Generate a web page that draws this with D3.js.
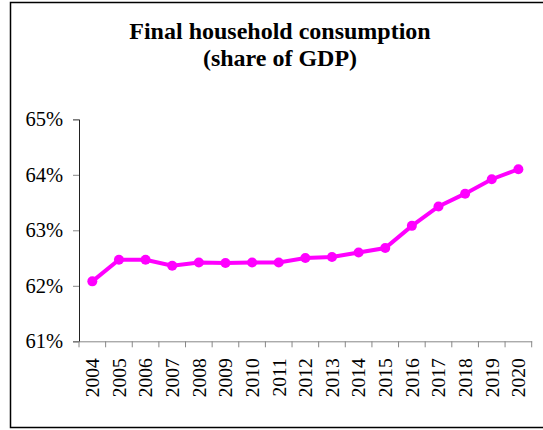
<!DOCTYPE html>
<html>
<head>
<meta charset="utf-8">
<script src="https://cdn.jsdelivr.net/npm/d3@7"></script>
<style>
body { margin: 0; background: #fff; }
</style>
</head>
<body>
<svg id="chart" width="543" height="430"></svg>
<script>
var years = ["2004","2005","2006","2007","2008","2009","2010","2011","2012","2013","2014","2015","2016","2017","2018","2019","2020"];
var consumption = [62.08, 62.47, 62.47, 62.36, 62.42, 62.41, 62.42, 62.42, 62.50, 62.52, 62.60, 62.68, 63.08, 63.43, 63.66, 63.92, 64.10];
var yTicks = [61, 62, 63, 64, 65];

var serif = "Liberation Serif";
var svg = d3.select("#chart");

// outer frame (right edge runs off the picture)
svg.append("rect")
  .attr("x", 10.5).attr("y", 2.5)
  .attr("width", 560).attr("height", 425)
  .attr("fill", "none").attr("stroke", "#000").attr("stroke-width", 1.5);

var title = svg.append("text")
  .attr("x", 280).attr("text-anchor", "middle")
  .style("font-family", serif)
  .attr("font-weight", "bold").attr("font-size", "24px");
title.append("tspan").attr("x", 280).attr("y", 38.5).text("Final household consumption");
title.append("tspan").attr("x", 280).attr("y", 65.5).text("(share of GDP)");

var x = d3.scaleBand().domain(years).range([79, 531.7]).padding(0);
var y = d3.scaleLinear().domain([61, 65]).range([341.3, 119.3]);

// y axis
var yAxis = svg.append("g")
  .attr("transform", "translate(79,0)")
  .call(d3.axisLeft(y).tickValues(yTicks).tickFormat(function(d) { return d + "%"; }).tickSize(6).tickPadding(10));
yAxis.attr("font-family", null);
yAxis.select(".domain").attr("stroke", "#222");
yAxis.selectAll(".tick line").attr("stroke", "#888");
yAxis.selectAll(".tick text").style("font-size", "20.5px").attr("fill", "#000")
  .style("font-family", serif);

// x axis
var xAxis = svg.append("g")
  .attr("transform", "translate(0,341.3)")
  .call(d3.axisBottom(x).tickSize(0).tickPadding(0));
xAxis.attr("font-family", null);
xAxis.select(".domain").attr("stroke", "#888");
xAxis.selectAll(".tick text")
  .style("font-size", "19.5px").attr("fill", "#000")
  .style("font-family", serif)
  .attr("transform", "rotate(-90)")
  .attr("text-anchor", "end")
  .attr("x", -17).attr("y", 0).attr("dy", "0.35em");

// category boundary ticks
var bounds = years.map(function(d) { return x(d); }).concat([x.range()[1]]);
xAxis.selectAll(".bound").data(bounds).enter().append("line")
  .attr("class", "bound")
  .attr("x1", function(d) { return d; }).attr("x2", function(d) { return d; })
  .attr("y1", 0).attr("y2", 6)
  .attr("stroke", "#888");

var cx = function(d, i) { return x(years[i]) + x.bandwidth() / 2; };

var line = d3.line()
  .x(function(d, i) { return cx(d, i); })
  .y(function(d) { return y(d); });

svg.append("path")
  .datum(consumption)
  .attr("d", line)
  .attr("fill", "none")
  .attr("stroke", "#ff00ff")
  .attr("stroke-width", 4);

svg.selectAll(".dot").data(consumption).enter().append("circle")
  .attr("class", "dot")
  .attr("cx", cx)
  .attr("cy", function(d) { return y(d); })
  .attr("r", 5)
  .attr("fill", "#ff00ff");
</script>
</body>
</html>
